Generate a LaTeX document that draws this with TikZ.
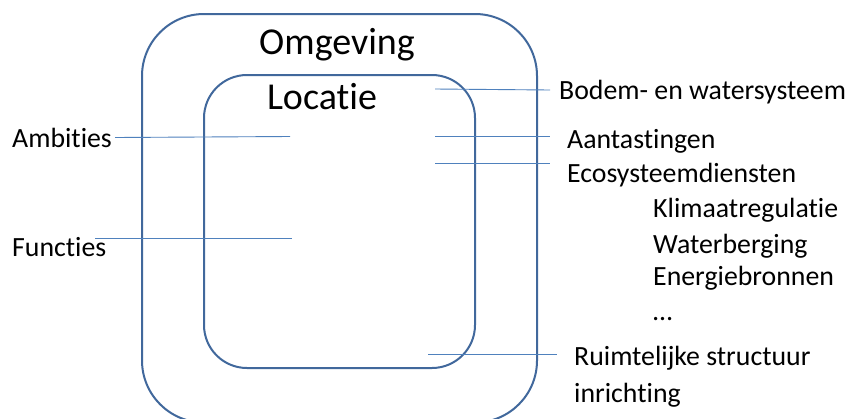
\documentclass[tikz,border=0pt]{standalone}
\usepackage{fontspec}
\setmainfont[Ligatures=NoCommon]{Carlito}
\definecolor{boxblue}{HTML}{41689C}
\definecolor{linkblue}{HTML}{4F81BD}
\tikzset{
  frame/.style={draw=boxblue, line width=2pt},
  link/.style={draw=linkblue, line width=0.9pt},
  lbl/.style={anchor=base west, inner sep=0pt, font=\fontsize{27.8}{33}\selectfont},
  title/.style={anchor=base, inner sep=0pt, font=\fontsize{38}{45}\selectfont},
}
\begin{document}
\begin{tikzpicture}[x=1pt,y=-1pt]
\useasboundingbox (0,0) rectangle (856,418);
\clip (0,0) rectangle (856,418);
\fill[white] (0,0) rectangle (856,418);
% boxes
\draw[frame, rounded corners=62pt] (142,14) rectangle (537,422.5);
\draw[frame, rounded corners=43pt] (204,75) rectangle (475,368);
% titles
\node[title] (omg) at (337,54) {Omgeving};
\node[title] (loc) at (322,109) {Locatie};
% labels
\node[lbl] (amb) at (12,147) {Ambities};
\node[lbl] (fun) at (12,256) {Functies};
\node[lbl] (bod) at (559,99) {Bodem- en watersysteem};
\node[lbl] (aan) at (567,148) {Aantastingen};
\node[lbl] (eco) at (567,182) {Ecosysteemdiensten};
\node[lbl] (kli) at (653,217) {Klimaatregulatie};
\node[lbl] (wat) at (653,253) {Waterberging};
\node[lbl] (ene) at (653,285) {Energiebronnen};
\node[lbl] (dots) at (653,320) {\dots};
\node[lbl] (rui) at (574,365) {Ruimtelijke structuur};
\node[lbl] (inr) at (574,402) {inrichting};
% connector ends
\coordinate (ambA) at (115,137.5);
\coordinate (ambB) at (290,136.5);
\coordinate (funA) at (95,238);
\coordinate (funB) at (292,238);
\coordinate (bodA) at (435,89);
\coordinate (bodB) at (550,90);
\coordinate (aanA) at (435,136.7);
\coordinate (aanB) at (550,136.7);
\coordinate (ecoA) at (435,163.7);
\coordinate (ecoB) at (550,163.7);
\coordinate (ruiA) at (428,354);
\coordinate (ruiB) at (557,354);
\draw[link] (ambA) -- (ambB);
\draw[link] (funA) -- (funB);
\draw[link] (bodA) -- (bodB);
\draw[link] (aanA) -- (aanB);
\draw[link] (ecoA) -- (ecoB);
\draw[link] (ruiA) -- (ruiB);
\end{tikzpicture}
\end{document}
